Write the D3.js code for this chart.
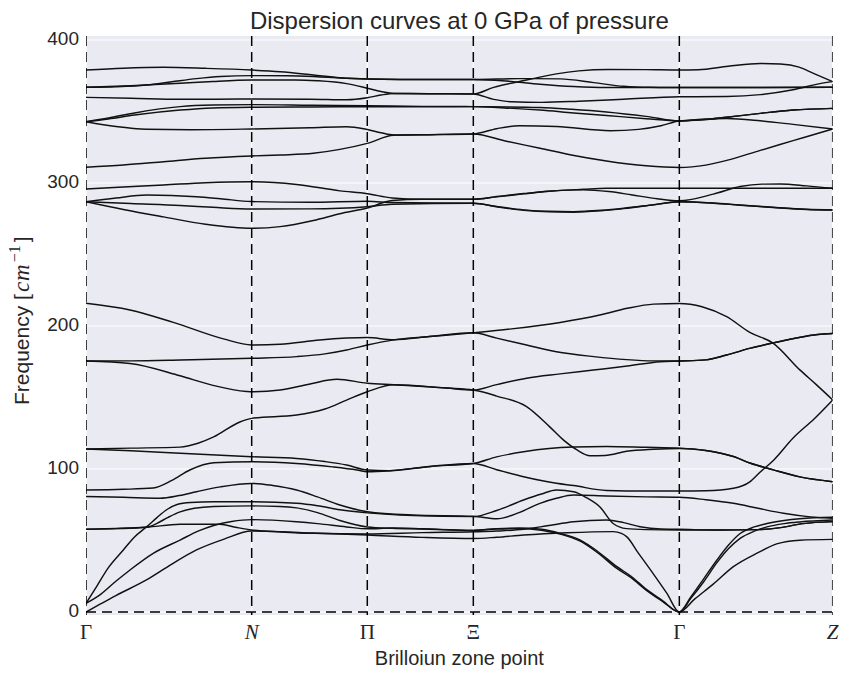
<!DOCTYPE html>
<html>
<head>
<meta charset="utf-8">
<script src="https://cdn.jsdelivr.net/npm/d3@7"></script>
<style>
  html, body { margin: 0; padding: 0; background: #ffffff; }
  svg { display: block; }
</style>
</head>
<body>
<svg id="chart" width="842" height="675"></svg>
<script>
// ---- High-symmetry path (cumulative distance along the path, in % of its length)
const kPoints = [0, 22.19, 37.67, 51.87, 79.46, 100];
const kLabels = ["Γ", "N", "Π", "Ξ", "Γ", "Z"];
const kItalic = [false, true, false, false, false, true];
const freqTicks = [0, 100, 200, 300, 400];

// ---- Phonon branches: [path position, frequency in cm^-1]
// upper (optical) group
const band01 = [[0,379.0],[5,380.3],[10.4,380.9],[16,380.2],[22.19,379.0],[26,377.8],[30.45,375.5],[34,373.6],[37.67,372.7],[42,372.4],[51.87,372.4],[58,373],[63.5,372.8],[68,370.2],[72,367.6],[75.5,366.9],[79.46,366.8],[90,366.8],[100,366.9]];
const band02 = [[0,366.9],[4,367.3],[8.1,368.5],[11.5,370.8],[14.8,373.0],[18,374.5],[22.19,375.1],[27,375],[31,374.3],[35,373.2],[37.67,372.7],[42,372.4],[51.87,372.4],[56.3,371.3],[60.8,369.1],[65.3,367.5],[69.7,366.8],[79.46,366.8],[90,366.8],[100,366.9]];
const band03 = [[0,366.9],[6,368],[12.6,369.7],[17,371],[22.19,372.0],[28,372.1],[31,371.5],[34.9,369.5],[37.67,366.3],[39.5,364],[41.2,362.6],[46,362.4],[51.87,362.3],[54.6,366.9],[59,372],[63,376.3],[66,378.4],[70,379.4],[75,379.3],[79.46,379.0],[82,379.2],[86,381.6],[90.3,383.6],[93,383.2],[95.5,381],[97.5,376.5],[100,370.9]];
const band04 = [[0,359.9],[6,359.3],[12.6,358.5],[22.19,358.7],[30,358.6],[34.9,358.2],[37.67,359.6],[39.5,361.5],[41.2,362.6],[46,362.4],[51.87,362.3],[54.6,358.5],[57,356.8],[61,356.4],[66,357.2],[72,358.6],[79.46,360.3],[85.8,360.5],[90.3,361.8],[94.7,365.2],[98.3,369.5],[100,370.9]];
const band05 = [[0,342.9],[3,345.5],[6.5,349],[12.6,353.4],[17,354.5],[22.19,354.8],[30,354.4],[37.67,354.0],[45,353.6],[51.87,353.4],[60.8,352.8],[65,351.6],[69.7,349.7],[75,346.6],[79.46,343.4],[82.5,344.2],[85.8,346],[90.3,348.7],[94.7,351],[100,352.2]];
const band06 = [[0,342.9],[3,344.8],[6.5,347.5],[12.6,351.0],[17,352.5],[22.19,353.0],[30,353.2],[37.67,353.3],[51.87,353.4],[56,352.5],[60.8,351.0],[65.3,349],[69.7,347.2],[75,345],[79.46,343.4],[82.5,344.6],[85.8,345.1],[90.3,343.5],[94.7,341],[100,337.8]];
const band07 = [[0,342.9],[4,339.5],[8.1,337.6],[14,337.3],[22.19,337.8],[30,338.6],[34.9,339.4],[37.67,337.4],[39.5,335.2],[41.2,333.6],[46,333.8],[51.87,334.3],[55,338],[58,340],[63,339.5],[70.2,336.6],[74,337.5],[77,340],[79.46,343.4],[82.5,344.2],[85.8,346],[90.3,348.7],[94.7,351],[100,352.2]];
const band08 = [[0,311.0],[5,312.6],[10.4,314.9],[16,317.3],[22.19,318.9],[26,319.6],[30.45,320.8],[34,323.5],[37.67,327.7],[41.2,333.4],[46,333.8],[51.87,334.3],[56.3,329.2],[60.8,324.3],[65,319.6],[69.7,315.4],[75,312.0],[79.46,310.8],[83,312.5],[85.8,315.8],[90.3,322.8],[94.7,329.6],[100,337.8]];
const band09 = [[0,295.8],[5,297.2],[10.4,298.6],[16,300.2],[22.19,300.9],[28.2,299.0],[34,294.5],[37.67,292.5],[41,289.5],[45,288.6],[51.87,288.6],[55,290.5],[58.6,292.6],[62,294.3],[66.6,295.6],[69.7,296.3],[79.46,296.3],[90,296.3],[100,296.3]];
const band10 = [[0,286.9],[4,289.5],[8.1,291.6],[14.8,290.4],[18,289],[22.19,287.0],[30,286.5],[37.67,287.2],[41,286.3],[51.87,285.8],[55,283.6],[58.6,281.2],[62,280.2],[65.3,280.0],[69,280.9],[72,282.3],[76,284.8],[79.46,286.9],[84,286],[87.6,284.6],[92,283],[96.5,281.6],[100,281.1]];
const band11 = [[0,286.9],[6,285.6],[12.6,284.3],[17,283],[22.19,281.8],[30,281.9],[37.67,283.4],[41,285.2],[51.87,285.8],[55,283.4],[58.6,280.9],[62,279.8],[65.3,279.6],[69,280.6],[72,282.1],[76,284.7],[79.46,286.9],[84,285.9],[87.6,284.5],[92,282.9],[96.5,281.5],[100,281.1]];
const band12 = [[0,286.9],[5,281.5],[10.4,276.3],[16,271.2],[22.19,268.3],[26,269.5],[30.45,273.8],[34,278.5],[37.67,282.5],[41,287.8],[45,288.6],[51.87,288.6],[55,290.3],[58.6,292.4],[62,294.2],[66.6,295.2],[70,294],[73,291.8],[76.5,289],[79.46,287.6],[84,292.2],[87.6,297.5],[90.5,299.2],[93,299.3],[96.5,298],[100,296.3]];

// lower group
const band13 = [[0,215.9],[5.9,211.2],[11.7,202.5],[18.4,191],[22.19,186.7],[26,187.2],[31.3,190.2],[37.67,191.9],[41.2,190.4],[46,192.6],[51.87,195.3],[57,198],[63.5,202.5],[68.8,207.7],[72.5,212.4],[76,215.3],[79.46,215.8],[82.5,213.5],[85.8,206.5],[88.9,195.5],[92.05,187.9],[95.6,169.3],[97.8,159],[100,148.3]];
const band14 = [[0,175.5],[6,175.6],[12.6,176.2],[22.19,177.4],[28.2,178.6],[32,180.5],[34.9,183.2],[37.67,186.7],[41.2,190.3],[46,192.6],[51.87,195.3],[55,191.5],[59,186.7],[63,182],[68,178.6],[72.4,176.5],[76,175.6],[79.46,175.5],[83,176.3],[85.8,179.7],[89,184.5],[92.05,188.2],[95.5,192],[98,194],[100,194.8]];
const band15 = [[0,175.5],[5.9,173.8],[12.6,165.2],[17,158.5],[21.5,154.2],[22.19,154.0],[26,155.2],[30,159.5],[33.6,162.7],[37.67,160],[41.2,158.9],[48.3,156.6],[51.87,155.2],[55,159],[59,163.5],[63.5,166.5],[67.95,169.2],[72.5,172],[76.9,175.0],[79.46,175.5],[83,176.3],[85.8,179.7],[89,184.5],[92.05,188.2],[95.5,192],[98,194],[100,194.8]];
const band16 = [[0,114.0],[6,114.6],[12.6,115.3],[15,118],[17.1,122.4],[20.6,132.9],[22.19,135.4],[28.2,137.7],[32,142],[34.9,148.2],[37.67,154.0],[41.2,158.9],[48.3,156.6],[51.87,155.2],[55,151],[59,143.6],[62,130],[64,120],[65.7,113.5],[67.5,109.3],[69.5,109.5],[72.4,112.4],[76,113.8],[79.46,114.4],[83,113],[86.7,108.7],[89,104],[92.05,99.4],[95.6,94.5],[100,91.1]];
const band17 = [[0,114.0],[6,112.8],[12.6,111.0],[22.19,108.6],[28.2,107.4],[32,105.2],[34.9,102.8],[37.67,99.3],[40.7,98.8],[46.1,101.8],[51.87,103.9],[55,108.5],[58.6,112],[62,114.3],[65.3,115.4],[69.7,115.8],[75,115.2],[79.46,114.6],[83,113],[86.7,108.7],[89,104],[92.05,99.4],[95.6,94.5],[100,91.1]];
const band18 = [[0,85.3],[5,85.8],[9,86.7],[11.5,92],[13.9,99.3],[17.1,104.4],[22.19,105.1],[28.2,103.9],[33,101.5],[36.3,99.3],[37.67,98.1],[40.7,98.8],[46.1,101.8],[51.87,103.9],[55,99.5],[58.6,94.6],[63,90.0],[65.3,88.4],[69.7,85.0],[75,84.6],[79.46,84.6],[83,84.8],[86.7,86.5],[88.9,91],[90.3,97.9],[92.05,106],[94.7,121.7],[97.5,135],[100,148.3]];
const band19 = [[0,80.7],[5,80.2],[9.9,79.6],[12.5,81.5],[14.8,84.1],[18,87.5],[22.19,89.9],[25,88.5],[28.2,85.3],[31,80.5],[34,74.8],[37.67,70.1],[43.8,67.8],[51.87,66.9],[55,65.2],[58,69.5],[60.8,76.0],[63,79.5],[65.3,81.8],[69.7,81.1],[75,80.5],[79.46,80.2],[83,78.5],[86.7,76.0],[90,72.5],[93.4,69.0],[97,66.5],[100,65.5]];
const band20 = [[0,57.8],[4,58.4],[8.1,59.3],[12.6,61.3],[17.95,61.4],[20,59.3],[22.19,57.3],[26,56],[30.45,55.0],[37.67,54.6],[45,55.5],[51.87,56.1],[55,56.6],[58.6,57.8],[62,60.5],[65.3,63.1],[69.7,64.3],[72,62.5],[74.2,59.6],[77,58],[79.46,57.8],[85,57.3],[90,57.6],[93,59],[96,61.8],[100,63.2]];
const band21 = [[0,57.8],[4,58.3],[8.1,59.3],[9.5,62],[11,66.2],[12.6,70],[14.5,72.5],[17.1,73.8],[22.19,74.2],[26,73.8],[28.2,72.8],[31,69.5],[34,64],[37.67,59.5],[41,58.5],[45,58],[51.87,57.2],[55,58],[58,58.3],[61,57.2],[63.5,54.5],[66.2,49.5],[68.5,41.5],[71.1,30.5],[73,24],[75.1,15],[77.2,7.5],[79.46,0],[81,9.5],[82.7,21],[84.5,34.5],[86,44],[87.6,51.5],[89.5,56.5],[91.2,59.5],[93.5,61.8],[95.6,63],[100,64.3]];

// acoustic branches
const band22 = [[0,0],[2,5.8],[4,11.5],[8.1,22.4],[11.5,33.5],[14.8,43.4],[18.5,51],[22.19,56.6],[26,56.2],[30,55.3],[37.67,53.8],[45,52.2],[51.87,51.4],[55,52.3],[58.6,53.8],[64.4,55.4],[70.6,56.2],[71.7,55],[72.4,52.7],[74,41],[76,26.5],[77.8,13],[79.46,0],[81.5,9],[84,19.5],[86.7,31.7],[90,41.5],[92.5,47.6],[95.6,50.2],[100,50.8]];
const band23 = [[0,6],[2,12.5],[4,21.5],[5.9,29.4],[9,41],[12.6,50.3],[15,56.5],[17.1,60.5],[19.5,63.3],[22.19,64.6],[28.2,63.1],[31,61.8],[34.9,59.5],[37.67,58.2],[41,58.7],[45,58.2],[51.87,56.9],[55,58.3],[58,58.7],[61,57.8],[63.5,55],[66.2,50.3],[68.5,42.5],[71.1,31.7],[73,25],[75.1,15.6],[77.2,8],[79.46,0],[81,10.5],[82.7,23],[84.5,36.4],[86,46.5],[87.6,54.9],[89.5,59.5],[91.2,61.9],[93.5,64],[95.6,65.2],[100,66.2]];
const band24 = [[0,6],[1.5,18.5],[3,31],[5,43.4],[6.5,52.5],[8.1,59.5],[9.5,66],[10.8,71.5],[12.2,75.2],[14,76.6],[17.1,77.1],[22.19,77.1],[28.2,76],[31,74.3],[34,71.5],[37.67,69.3],[43.8,67.4],[51.87,66.7],[55,71],[58.6,78.3],[61,82.5],[63,85.3],[65.3,84.1],[67,80],[68.8,73.6],[70.6,61.9],[72.4,58.3],[75,57.6],[79.46,57.3],[85,57.3],[90,57.6],[93,59],[96,61.8],[100,63.2]];

const bands = [band01, band02, band03, band04, band05, band06, band07, band08,
               band09, band10, band11, band12, band13, band14, band15, band16,
               band17, band18, band19, band20, band21, band22, band23, band24];

// ---- Layout
const svg = d3.select("#chart");
const plot = { left: 86, right: 832.7, top: 36, bottom: 615 };
const textColor = "#262626";
const sans = "'Liberation Sans', Arial, sans-serif";
const serif = "'Liberation Serif', 'DejaVu Serif', serif";

const x = d3.scaleLinear().domain([0, 100]).range([plot.left, plot.right]);
const y = d3.scaleLinear().domain([-2.1, 402.8]).range([plot.bottom, plot.top]);

// axes background
svg.append("rect")
  .attr("x", plot.left).attr("y", plot.top)
  .attr("width", plot.right - plot.left).attr("height", plot.bottom - plot.top)
  .attr("fill", "#EAEAF2");

// white grid
const grid = svg.append("g").attr("stroke", "#ffffff").attr("stroke-width", 1.2);
grid.selectAll("line.h").data(freqTicks).join("line")
  .attr("class", "h")
  .attr("x1", plot.left).attr("x2", plot.right)
  .attr("y1", d => y(d)).attr("y2", d => y(d));
grid.selectAll("line.v").data(kPoints).join("line")
  .attr("class", "v")
  .attr("x1", d => x(d)).attr("x2", d => x(d))
  .attr("y1", plot.top).attr("y2", plot.bottom);

// clip region for the branches
svg.append("clipPath").attr("id", "plotClip")
  .append("rect")
  .attr("x", plot.left).attr("y", plot.top)
  .attr("width", plot.right - plot.left).attr("height", plot.bottom - plot.top);

const line = d3.line()
  .x(d => x(d[0]))
  .y(d => y(d[1]))
  .curve(d3.curveMonotoneX);

svg.append("g").attr("clip-path", "url(#plotClip)")
  .selectAll("path").data(bands).join("path")
  .attr("d", line)
  .attr("fill", "none")
  .attr("stroke", "#111111")
  .attr("stroke-width", 1.45)
  .attr("stroke-linejoin", "round");

// dashed markers at the high-symmetry points and at zero frequency
const dash = svg.append("g").attr("clip-path", "url(#plotClip)")
  .attr("stroke", "#000000").attr("stroke-width", 1.5)
  .attr("stroke-dasharray", "10,6").attr("fill", "none");
dash.selectAll("line.v").data(kPoints).join("line")
  .attr("class", "v")
  .attr("x1", d => x(d)).attr("x2", d => x(d))
  .attr("y1", plot.top).attr("y2", plot.bottom);
dash.append("line")
  .attr("x1", plot.left).attr("x2", plot.right)
  .attr("y1", y(0)).attr("y2", y(0));

// y tick labels
svg.append("g").selectAll("text").data(freqTicks).join("text")
  .attr("x", plot.left - 7)
  .attr("y", d => y(d) + 5)
  .attr("text-anchor", "end")
  .attr("font-family", sans).attr("font-size", 19)
  .attr("fill", textColor)
  .text(d => d);

// x tick labels (high-symmetry point symbols)
svg.append("g").selectAll("text").data(kPoints).join("text")
  .attr("x", d => x(d))
  .attr("y", 639)
  .attr("text-anchor", "middle")
  .attr("font-family", serif).attr("font-size", 21)
  .attr("font-style", (d, i) => kItalic[i] ? "italic" : "normal")
  .attr("fill", textColor)
  .text((d, i) => kLabels[i]);

// title
svg.append("text")
  .attr("x", (plot.left + plot.right) / 2).attr("y", 29)
  .attr("text-anchor", "middle")
  .attr("font-family", sans).attr("font-size", 24)
  .attr("fill", textColor)
  .text("Dispersion curves at 0 GPa of pressure");

// x axis label
svg.append("text")
  .attr("x", (plot.left + plot.right) / 2).attr("y", 665)
  .attr("text-anchor", "middle")
  .attr("font-family", sans).attr("font-size", 20)
  .attr("fill", textColor)
  .text("Brilloiun zone point");

// y axis label with math-style unit
const yl = svg.append("text")
  .attr("transform", "translate(29,405) rotate(-90)")
  .attr("text-anchor", "start")
  .attr("font-family", sans).attr("font-size", 21)
  .attr("fill", textColor);
yl.append("tspan").text("Frequency [");
yl.append("tspan").attr("font-family", serif).attr("font-style", "italic")
  .attr("font-size", 23).attr("dx", 2).attr("letter-spacing", 1).text("cm");
yl.append("tspan").attr("font-family", serif).attr("font-size", 16)
  .attr("dx", 1).attr("dy", -9).text("−1");
yl.append("tspan").attr("dx", 3).attr("dy", 9).text("]");
</script>
</body>
</html>
